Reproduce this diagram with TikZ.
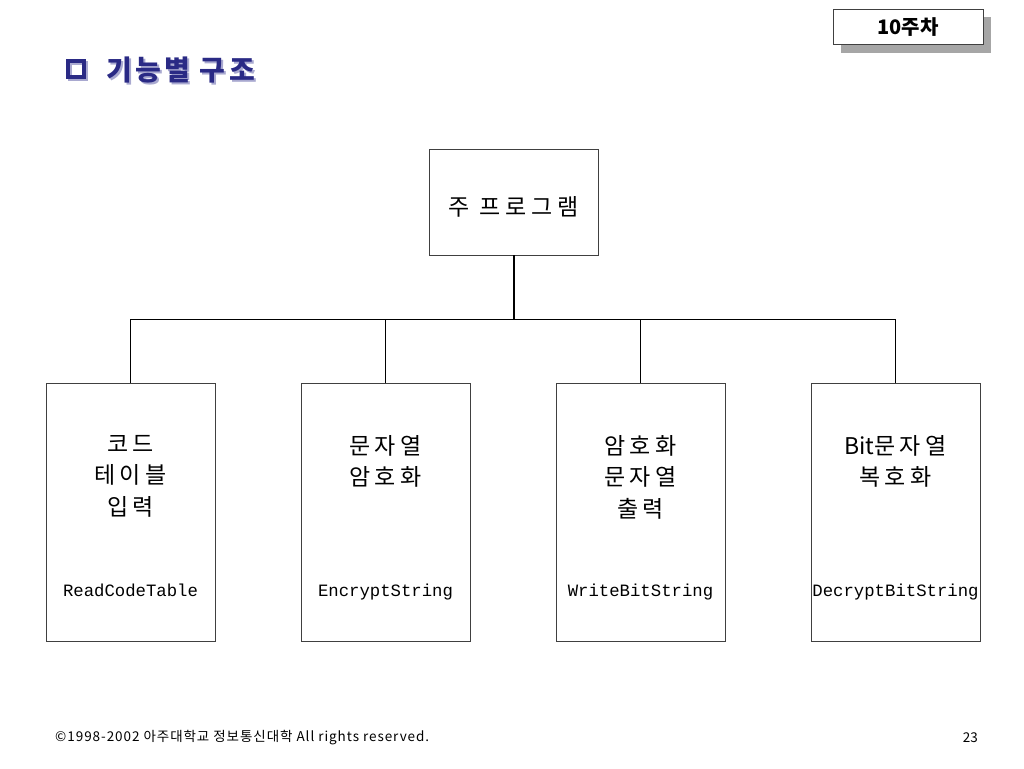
\documentclass[tikz,border=0pt]{standalone}
\usepackage{fontspec}
\setmainfont{Noto Sans CJK KR}
\newfontfamily\krfont{Noto Sans CJK KR}
\newfontfamily\krwide[LetterSpace=20]{Noto Sans CJK KR}
\newfontfamily\krmid[LetterSpace=12]{Noto Sans CJK KR}
\newfontfamily\krfoot[LetterSpace=7]{Noto Sans CJK KR}
\newfontfamily\monofont{Liberation Mono}
\definecolor{navy}{HTML}{2A2A85}
\definecolor{navyshadow}{HTML}{A9A9D0}
\definecolor{boxline}{HTML}{404040}
\begin{document}
\begin{tikzpicture}[x=1pt,y=-1pt,
  modbox/.style={draw=boxline,line width=0.9pt,fill=white,minimum width=169pt,minimum height=258pt,inner sep=0pt},
  mainbox/.style={draw=boxline,line width=0.9pt,fill=white,minimum width=169pt,minimum height=106pt,inner sep=0pt},
  kr/.style={font=\krwide\fontsize{23}{31.5}\selectfont,align=center,inner sep=0pt,anchor=north},
  fn/.style={font=\monofont\fontsize{17.3}{20}\selectfont,inner sep=0pt,anchor=base},
  link/.style={line width=0.9pt,draw=black}]
\useasboundingbox (0,0) rectangle (1024,768);
\fill[white] (0,0) rectangle (1024,768);
% week tag
\fill[gray!70] (841,17) rectangle (991,53);
\node[draw=boxline,line width=0.9pt,fill=white,minimum width=150pt,minimum height=35pt,inner sep=0pt] (week) at (908,27) {};
\node[font=\krfont\bfseries\fontsize{20}{24}\selectfont,inner sep=0pt] (weektxt) at (week.center) {10주차};
% title
\node[anchor=west,inner sep=0pt,text=navyshadow,font=\krmid\bfseries\fontsize{28}{32}\selectfont] (titlesh) at (108,72) {기능별 구조};
\node[anchor=west,inner sep=0pt,text=navy,font=\krmid\bfseries\fontsize{28}{32}\selectfont] (title) at (106,70) {기능별 구조};
\draw[navyshadow,line width=3.5pt] (70,63) rectangle (86,79);
\draw[navy,line width=3.5pt] (68,61) rectangle (84,77);
% main box
\node[mainbox] (main) at (513.5,202) {};
\node[font=\krwide\fontsize{23}{27}\selectfont,inner sep=0pt] (maintxt) at (513.5,207) {주 프로그램};
% module boxes
\node[modbox] (m1) at (130.5,512) {};
\node[modbox] (m2) at (385.5,512) {};
\node[modbox] (m3) at (640.5,512) {};
\node[modbox] (m4) at (895.5,512) {};
% connectors
\coordinate (bus) at (514,319);
\coordinate (b1) at (m1.north |- bus);
\coordinate (b4) at (m4.north |- bus);
\draw[line width=1.6pt] (main.south -| bus) -- (bus);
\draw[link] (b1) -- (b4);
\draw[link] (b1) -- (m1.north);
\draw[link] (m2.north |- bus) -- (m2.north);
\draw[link] (m3.north |- bus) -- (m3.north);
\draw[link] (b4) -- (m4.north);
% texts
\node[kr] (t1) at (130.5,435) {코드\\테이블\\입력};
\node[kr] (t2) at (385.5,435) {문자열\\암호화};
\node[kr] (t3) at (640.5,435) {암호화\\문자열\\출력};
\node[kr] (t4) at (895.5,435) {{\krfont Bit}문자열\\복호화};
\node[fn] (f1) at (130.5,596) {ReadCodeTable};
\node[fn] (f2) at (385.5,596) {EncryptString};
\node[fn] (f3) at (640.5,596) {WriteBitString};
\node[fn] (f4) at (895.5,596) {DecryptBitString};
% footer
\node[anchor=west,inner sep=0pt,font=\krfoot\fontsize{13.5}{16}\selectfont] (foot) at (55,738) {©1998-2002 아주대학교 정보통신대학 All rights reserved.};
\node[anchor=east,inner sep=0pt,font=\krfont\fontsize{13.5}{16}\selectfont] (page) at (978,738) {23};
\end{tikzpicture}
\end{document}
